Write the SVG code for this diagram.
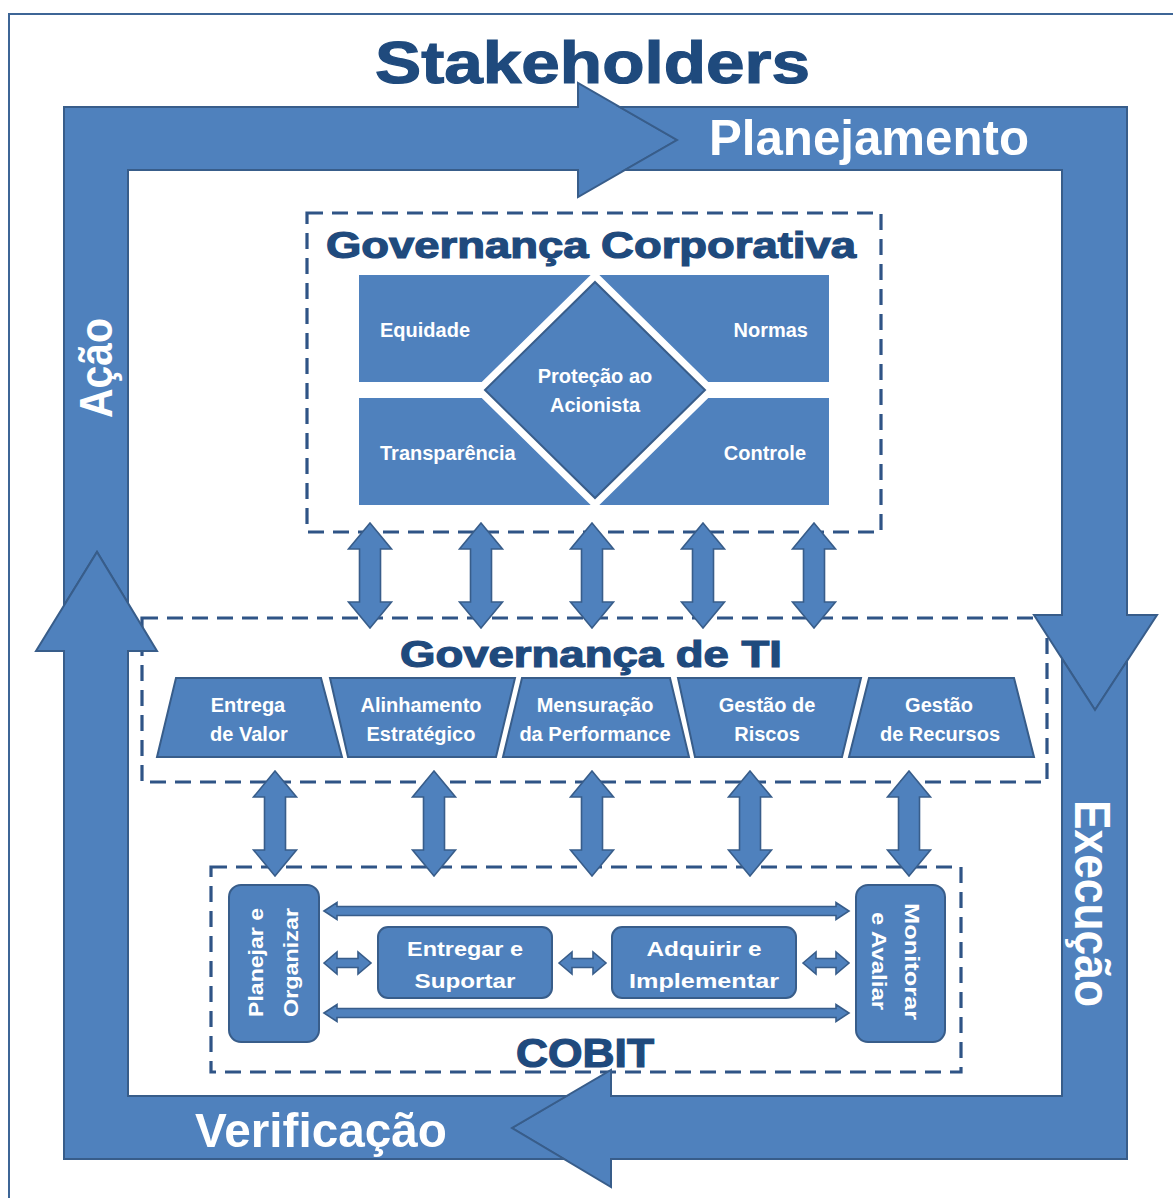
<svg xmlns="http://www.w3.org/2000/svg" xmlns:xlink="http://www.w3.org/1999/xlink" width="1173" height="1198" viewBox="0 0 1173 1198">
<defs>
<style>
.band{fill:#4f81bd;stroke:#385d8a;stroke-width:2;stroke-linejoin:miter}
.box{fill:#4f81bd;stroke:#385d8a;stroke-width:2}
.plain{fill:#4f81bd}
.dash{fill:none;stroke:#2f5486;stroke-width:3.2;stroke-dasharray:16 9}
.ttl{font-family:"Liberation Sans",Arial,sans-serif;font-weight:bold;fill:#1f4a7d;stroke:#1f4a7d;stroke-width:1.2}
.big{font-family:"Liberation Sans",Arial,sans-serif;font-weight:bold;fill:#ffffff}
.lbl{font-family:"Liberation Sans",Arial,sans-serif;font-weight:bold;fill:#ffffff;font-size:20px}
.con{fill:#4f81bd;stroke:#385d8a;stroke-width:1.6;stroke-linejoin:miter}
</style>
<path id="va" d="M0,0 L21.5,26 L10.5,26 L10.5,79 L21.5,79 L0,105 L-21.5,79 L-10.5,79 L-10.5,26 L-21.5,26 Z"/>
</defs>
<rect width="1173" height="1198" fill="#ffffff"/>
<rect x="9" y="14" width="1200" height="1250" fill="none" stroke="#3d6596" stroke-width="2"/>

<g id="stakeholders">
<text class="ttl" x="375" y="83" font-size="60" textLength="435" lengthAdjust="spacingAndGlyphs">Stakeholders</text>
</g>

<!-- dashed containers -->
<g id="governanca-corporativa-frame">
<rect class="dash" x="307" y="213" width="574" height="319"/>
<text class="ttl" x="326" y="258" font-size="36" textLength="530" lengthAdjust="spacingAndGlyphs">Governança Corporativa</text>
</g>
<g id="governanca-ti-frame">
<rect class="dash" x="142" y="618" width="905" height="164"/>
<text class="ttl" x="400" y="667" font-size="36" textLength="382" lengthAdjust="spacingAndGlyphs">Governança de TI</text>
</g>
<g id="cobit-frame">
<rect class="dash" x="211" y="867" width="750" height="205"/>
<text class="ttl" x="516" y="1067" font-size="40" textLength="138" lengthAdjust="spacingAndGlyphs">COBIT</text>
</g>

<!-- PDCA loop arrows -->
<g id="acao">
<path class="band" d="M64,605.6 L64,107 L578,107 L578,83 L677,140 L578,197 L578,170 L128,170 L128,603.2 L97,552 Z"/>
<text class="big" transform="translate(112,368) rotate(-90)" text-anchor="middle" font-size="47" textLength="100" lengthAdjust="spacingAndGlyphs">Ação</text>
</g>
<g id="planejamento">
<path class="band" d="M619.7,107 L1127,107 L1127,615 L1157,615 L1095,710 L1034,615 L1062,615 L1062,170 L624.9,170 L677,140 Z"/>
<text class="big" x="709" y="155" font-size="50" textLength="320" lengthAdjust="spacingAndGlyphs">Planejamento</text>
</g>
<g id="execucao">
<path class="band" d="M1062,658.6 L1095,710 L1127,661 L1127,1159 L611,1159 L611,1187 L512,1128 L611,1070 L611,1096 L1062,1096 Z"/>
<text class="big" transform="translate(1075,903.5) rotate(90)" text-anchor="middle" font-size="50" textLength="207" lengthAdjust="spacingAndGlyphs">Execução</text>
</g>
<g id="verificacao">
<path class="band" d="M566.6,1096 L512,1128 L564,1159 L64,1159 L64,651 L36,651 L97,552 L157,651 L128,651 L128,1096 Z"/>
<text class="big" x="195" y="1147" font-size="49" textLength="252" lengthAdjust="spacingAndGlyphs">Verificação</text>
</g>

<!-- Governança Corporativa content -->
<g id="equidade"><rect class="plain" x="359" y="275" width="236" height="107"/><text class="lbl" x="380" y="337">Equidade</text></g>
<g id="normas"><rect class="plain" x="595" y="275" width="234" height="107"/><text class="lbl" x="808" y="337" text-anchor="end">Normas</text></g>
<g id="transparencia"><rect class="plain" x="359" y="398" width="236" height="107"/><text class="lbl" x="380" y="460">Transparência</text></g>
<g id="controle"><rect class="plain" x="595" y="398" width="234" height="107"/><text class="lbl" x="806" y="460" text-anchor="end">Controle</text></g>
<g id="protecao">
<polygon points="595,282 705,390 595,498 485,390" fill="#4f81bd" stroke="#ffffff" stroke-width="16" stroke-linejoin="miter"/>
<polygon points="595,282 705,390 595,498 485,390" fill="#4f81bd" stroke="#385d8a" stroke-width="2"/>
<text class="lbl" x="595" y="383" text-anchor="middle">Proteção ao</text>
<text class="lbl" x="595" y="412" text-anchor="middle">Acionista</text>
</g>

<!-- Governança de TI content -->
<g id="entrega-valor"><polygon class="box" points="176,678 321,678 342,757 157,757"/><text class="lbl" font-size="21" x="248" y="712" text-anchor="middle">Entrega</text><text class="lbl" font-size="21" x="249" y="741" text-anchor="middle">de Valor</text></g>
<g id="alinhamento"><polygon class="box" points="330,678 515,678 496,757 348,757"/><text class="lbl" font-size="21" x="421" y="712" text-anchor="middle">Alinhamento</text><text class="lbl" font-size="21" x="421" y="741" text-anchor="middle">Estratégico</text></g>
<g id="mensuracao"><polygon class="box" points="522,678 670,678 689,757 503,757"/><text class="lbl" font-size="21" x="595" y="712" text-anchor="middle">Mensuração</text><text class="lbl" font-size="21" x="595" y="741" text-anchor="middle">da Performance</text></g>
<g id="riscos"><polygon class="box" points="678,678 861,678 842,757 695,757"/><text class="lbl" font-size="21" x="767" y="712" text-anchor="middle">Gestão de</text><text class="lbl" font-size="21" x="767" y="741" text-anchor="middle">Riscos</text></g>
<g id="recursos"><polygon class="box" points="869,678 1014,678 1034,757 849,757"/><text class="lbl" font-size="21" x="939" y="712" text-anchor="middle">Gestão</text><text class="lbl" font-size="21" x="940" y="741" text-anchor="middle">de Recursos</text></g>

<!-- COBIT content -->
<g id="planejar-organizar">
<rect class="box" x="229" y="885" width="90" height="157" rx="12"/>
<text class="lbl" font-size="21" transform="translate(263,962.5) rotate(-90)" text-anchor="middle" textLength="109" lengthAdjust="spacingAndGlyphs">Planejar e</text>
<text class="lbl" font-size="21" transform="translate(298,962.5) rotate(-90)" text-anchor="middle" textLength="109" lengthAdjust="spacingAndGlyphs">Organizar</text>
</g>
<g id="entregar-suportar">
<rect class="box" x="378" y="927" width="174" height="71" rx="10"/>
<text class="lbl" font-size="22" x="465" y="956" text-anchor="middle" textLength="116" lengthAdjust="spacingAndGlyphs">Entregar e</text>
<text class="lbl" font-size="22" x="465" y="988" text-anchor="middle" textLength="101" lengthAdjust="spacingAndGlyphs">Suportar</text>
</g>
<g id="adquirir-implementar">
<rect class="box" x="612" y="927" width="184" height="71" rx="10"/>
<text class="lbl" font-size="22" x="704" y="956" text-anchor="middle" textLength="115" lengthAdjust="spacingAndGlyphs">Adquirir e</text>
<text class="lbl" font-size="22" x="704" y="988" text-anchor="middle" textLength="150" lengthAdjust="spacingAndGlyphs">Implementar</text>
</g>
<g id="monitorar-avaliar">
<rect class="box" x="856" y="885" width="89" height="157" rx="12"/>
<text class="lbl" font-size="22" transform="translate(905,961.5) rotate(90)" text-anchor="middle" textLength="117" lengthAdjust="spacingAndGlyphs">Monitorar</text>
<text class="lbl" font-size="22" transform="translate(872,961) rotate(90)" text-anchor="middle" textLength="98" lengthAdjust="spacingAndGlyphs">e Avaliar</text>
</g>

<!-- connectors -->
<g id="connectors">
<use href="#va" xlink:href="#va" class="con" transform="translate(370,523)"/>
<use href="#va" xlink:href="#va" class="con" transform="translate(481,523)"/>
<use href="#va" xlink:href="#va" class="con" transform="translate(592,523)"/>
<use href="#va" xlink:href="#va" class="con" transform="translate(703,523)"/>
<use href="#va" xlink:href="#va" class="con" transform="translate(814,523)"/>
<use href="#va" xlink:href="#va" class="con" transform="translate(275,771)"/>
<use href="#va" xlink:href="#va" class="con" transform="translate(434,771)"/>
<use href="#va" xlink:href="#va" class="con" transform="translate(592,771)"/>
<use href="#va" xlink:href="#va" class="con" transform="translate(750,771)"/>
<use href="#va" xlink:href="#va" class="con" transform="translate(909,771)"/>
<path class="con" d="M324,911 L337,902.5 L337,906.5 L836,906.5 L836,902.5 L849,911 L836,919.5 L836,915.5 L337,915.5 L337,919.5 Z"/>
<path class="con" d="M324,1013 L337,1004.5 L337,1008.5 L836,1008.5 L836,1004.5 L849,1013 L836,1021.5 L836,1017.5 L337,1017.5 L337,1021.5 Z"/>
<path class="con" d="M324,963 L337,952 L337,958.5 L358,958.5 L358,952 L371,963 L358,974 L358,967.5 L337,967.5 L337,974 Z"/>
<path class="con" d="M559,963 L572,952 L572,958.5 L593,958.5 L593,952 L606,963 L593,974 L593,967.5 L572,967.5 L572,974 Z"/>
<path class="con" d="M803,963 L816,952 L816,958.5 L836,958.5 L836,952 L849,963 L836,974 L836,967.5 L816,967.5 L816,974 Z"/>
</g>
</svg>
